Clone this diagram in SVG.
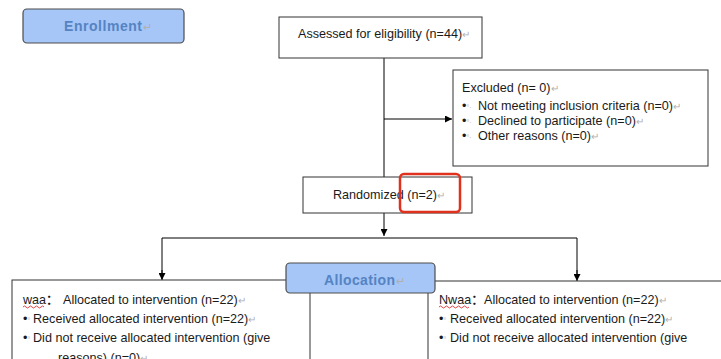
<svg xmlns="http://www.w3.org/2000/svg" width="721" height="359" viewBox="0 0 721 359">
<defs>
<marker id="arr" viewBox="0 0 10 10" refX="10" refY="5" markerWidth="7" markerHeight="7" markerUnits="userSpaceOnUse" orient="auto">
<path d="M0,0 L10,5 L0,10 z" fill="#000"/>
</marker>
<style>
.box{fill:#fff;stroke:#333;stroke-width:1}
.hdr{fill:#a6c6f8;stroke:#4d4d4d;stroke-width:1.2}
.hdrt{font-family:"Liberation Sans",Arial,sans-serif;font-weight:bold;font-size:14px;fill:#5583c2}
.t{font-family:"Liberation Sans",Arial,"Noto Sans CJK SC",sans-serif;font-size:12.6px;fill:#1a1a1a}
.rm{fill:#b0b0b0}
.con{fill:none;stroke:#000;stroke-width:1}
.wave{fill:none;stroke:#e03030;stroke-width:0.9}
</style>
</defs>
<rect width="721" height="359" fill="#fff"/>

<g id="connectors">
<line class="con" x1="384" y1="58" x2="384" y2="177"/>
<line class="con" x1="384" y1="119" x2="452" y2="119" marker-end="url(#arr)"/>
<line class="con" x1="384" y1="213" x2="384" y2="236" marker-end="url(#arr)"/>
<polyline class="con" points="162,279 162,238 577,238 577,279"/>
<line class="con" x1="162" y1="270" x2="162" y2="280" marker-end="url(#arr)"/>
<line class="con" x1="577" y1="270" x2="577" y2="281" marker-end="url(#arr)"/>
</g>

<g id="enrollment">
<rect class="hdr" x="23" y="9" width="161" height="34" rx="4"/>
<text class="hdrt" x="64" y="31" textLength="78" lengthAdjust="spacing">Enrollment</text>
<text class="hdrt rm" x="143" y="31" style="font-weight:normal;font-size:11px">↵</text>
</g>

<g id="assessed">
<rect class="box" x="279" y="17" width="203" height="41"/>
<text class="t" x="298" y="38">Assessed for eligibility (n=44)<tspan class="rm" font-size="10">↵</tspan></text>
</g>

<g id="excluded">
<rect class="box" x="453" y="70" width="255" height="96"/>
<text class="t" x="462" y="92">Excluded (n= 0)<tspan class="rm" font-size="10">↵</tspan></text>
<text class="t" x="462" y="110">•<tspan class="rm" font-size="7">°·</tspan><tspan x="478">Not meeting inclusion criteria (n=0)</tspan><tspan class="rm" font-size="10">↵</tspan></text>
<text class="t" x="462" y="125">•<tspan class="rm" font-size="7">°·</tspan><tspan x="478">Declined to participate (n=0)</tspan><tspan class="rm" font-size="10">↵</tspan></text>
<text class="t" x="462" y="140">•<tspan class="rm" font-size="7">°·</tspan><tspan x="478">Other reasons (n=0)</tspan><tspan class="rm" font-size="10">↵</tspan></text>
</g>

<g id="randomized">
<rect class="box" x="303" y="177" width="169" height="36"/>
<text class="t" x="333" y="199">Randomized (n=2)<tspan class="rm" font-size="10">↵</tspan></text>
<rect x="400" y="174" width="60" height="38" rx="4" fill="none" stroke="#e0301e" stroke-width="2.5"/>
</g>

<g id="left-arm">
<rect class="box" x="12" y="280" width="298" height="100"/>
<text class="t" x="23" y="304">waa<tspan font-weight="bold">：</tspan></text>
<path class="wave" d="M23,307 q1.5,-2 3,0 t3,0 t3,0 t3,0 t3,0 t3,0 t3,0"/>
<text class="t" x="63" y="304">Allocated to intervention (n=22)<tspan class="rm" font-size="10">↵</tspan></text>
<text class="t" x="23" y="323">•<tspan class="rm" font-size="7">°</tspan><tspan x="33">Received allocated intervention (n=22)</tspan><tspan class="rm" font-size="10">↵</tspan></text>
<text class="t" x="23" y="342">•<tspan class="rm" font-size="7">°</tspan><tspan x="33">Did not receive allocated intervention (give</tspan></text>
<text class="t" x="58" y="362">reasons) (n=0)<tspan class="rm" font-size="10">↵</tspan></text>
</g>

<g id="right-arm">
<rect class="box" x="428" y="281" width="300" height="100"/>
<text class="t" x="439" y="304">Nwaa<tspan font-weight="bold">：</tspan></text>
<path class="wave" d="M439,307 q1.5,-2 3,0 t3,0 t3,0 t3,0 t3,0 t3,0 t3,0 t3,0 t3,0 t3,0"/>
<text class="t" x="484" y="304">Allocated to intervention (n=22)<tspan class="rm" font-size="10">↵</tspan></text>
<text class="t" x="439" y="323">•<tspan class="rm" font-size="7">°</tspan><tspan x="450">Received allocated intervention (n=22)</tspan><tspan class="rm" font-size="10">↵</tspan></text>
<text class="t" x="439" y="342">•<tspan class="rm" font-size="7">°</tspan><tspan x="450">Did not receive allocated intervention (give</tspan></text>
</g>

<g id="allocation">
<rect class="hdr" x="286" y="263" width="149" height="30" rx="4"/>
<text class="hdrt" x="324" y="285" textLength="71" lengthAdjust="spacing">Allocation</text>
<text class="hdrt rm" x="396" y="285" style="font-weight:normal;font-size:11px">↵</text>
</g>
</svg>
